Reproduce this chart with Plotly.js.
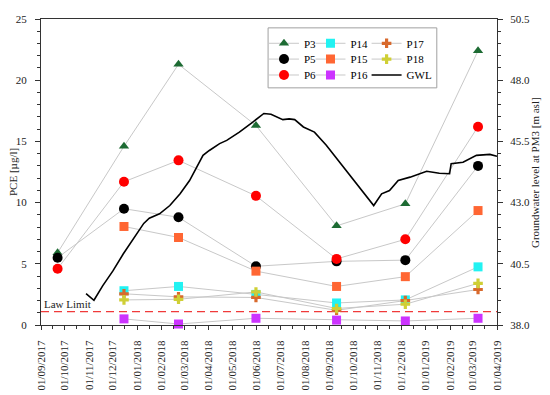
<!DOCTYPE html>
<html><head><meta charset="utf-8">
<script src="https://cdn.plot.ly/plotly-3.0.1.min.js"></script>
<style>html,body{margin:0;padding:0;background:#fff}#chart{width:550px;height:395px}</style>
</head><body><div id="chart"></div>
<script>
// ---- data ----
const sampleDates = ['2017-09-22','2017-12-15','2018-02-22','2018-05-31','2018-09-10','2018-12-06','2019-03-08'];
const P3  = [5.9, 14.6, 21.3, 16.3, 8.1, 9.9, 22.4];
const P5  = [5.5, 9.5, 8.8, 4.8, 5.2, 5.3, 13.0];
const P6  = [4.6, 11.7, 13.45, 10.55, 5.4, 7.0, 16.2];
const P14 = [null, 2.8, 3.15, 2.5, 1.8, 2.05, 4.75];
const P15 = [null, 8.05, 7.15, 4.4, 3.15, 3.95, 9.35];
const P16 = [null, 0.5, 0.08, 0.55, 0.4, 0.33, 0.55];
const P17 = [null, 2.55, 2.3, 2.25, 1.2, 2.0, 2.9];
const P18 = [null, 2.05, 2.1, 2.7, 1.35, 1.7, 3.4];

const gwlDates = ['2017-10-28','2017-11-07','2017-11-18','2017-12-01','2017-12-14','2017-12-22','2018-01-02','2018-01-09','2018-01-16','2018-01-29','2018-02-11','2018-02-24','2018-03-08','2018-03-14','2018-03-19','2018-03-25','2018-04-02','2018-04-15','2018-04-24','2018-05-10','2018-05-27','2018-06-10','2018-06-19','2018-07-04','2018-07-12','2018-07-19','2018-07-30','2018-08-13','2018-08-28','2018-09-14','2018-09-27','2018-10-09','2018-10-13','2018-10-27','2018-11-06','2018-11-16','2018-11-27','2018-12-12','2019-01-02','2019-01-18','2019-01-31','2019-02-02','2019-02-17','2019-03-06','2019-03-23','2019-04-01'];
const gwlLevel = [39.28,39.01,39.60,40.21,40.90,41.28,41.85,42.15,42.36,42.54,42.88,43.36,43.90,44.25,44.59,44.93,45.13,45.41,45.54,45.88,46.29,46.64,46.61,46.39,46.42,46.39,46.09,45.88,45.34,44.65,44.11,43.63,43.49,42.88,43.36,43.49,43.90,44.04,44.28,44.20,44.18,44.59,44.65,44.93,44.97,44.89];

const lawLimit = 1.1;
const lawLabel = 'Law Limit';
const leftTitle = 'PCE [µg/l]';
const rightTitle = 'Groundwater level at PM3 [m asl]';
const xTickFormat = '%d/%m/%Y';

// ---- styles ----
const FONT = 'Liberation Serif';
const series = [
  {name:'P3',  y:P3,  color:'#1d6b33', symbol:'triangle-up', size:9,  col:0, row:0},
  {name:'P5',  y:P5,  color:'#000000', symbol:'circle',      size:10, col:0, row:1},
  {name:'P6',  y:P6,  color:'#ff0000', symbol:'circle',      size:10, col:0, row:2},
  {name:'P14', y:P14, color:'#22f2f2', symbol:'square',      size:9,  col:1, row:0},
  {name:'P15', y:P15, color:'#ff6633', symbol:'square',      size:9,  col:1, row:1},
  {name:'P16', y:P16, color:'#cc33ff', symbol:'square',      size:9,  col:1, row:2},
  {name:'P17', y:P17, color:'#d8692c', symbol:'cross',       size:8,  col:2, row:0},
  {name:'P18', y:P18, color:'#cfcf35', symbol:'cross',       size:8,  col:2, row:1}
];
const legX = [0.489, 0.591, 0.714];
const legY = [0.9206, 0.869, 0.817];

const legFont = {family:FONT, size:11, color:'#000'};
const traces = [];
const layoutLegends = {};
series.forEach((s, i) => {
  const lg = i === 0 ? 'legend' : 'legend' + (i + 1);
  traces.push({
    type:'scatter', mode:'lines+markers', x:sampleDates, y:s.y, name:s.name,
    line:{color:'#c8c8c8', width:1},
    marker:{color:s.color, symbol:s.symbol, size:s.size, line:{width:0}},
    legend:lg, cliponaxis:false
  });
  layoutLegends[lg] = {x:legX[s.col], y:legY[s.row], xanchor:'left', yanchor:'middle',
    bgcolor:'rgba(0,0,0,0)', borderwidth:0, font:legFont};
});
traces.push({
  type:'scatter', mode:'lines', x:gwlDates, y:gwlLevel, name:'GWL', yaxis:'y2',
  line:{color:'#000', width:1.6}, legend:'legend9'
});
layoutLegends['legend9'] = {x:legX[2], y:legY[2], xanchor:'left', yanchor:'middle',
  bgcolor:'rgba(0,0,0,0)', borderwidth:0, font:legFont};

const tickFont = {family:FONT, size:11, color:'#222'};
const titleFont = {family:FONT, size:11, color:'#222'};
const layout = Object.assign({
  width:550, height:395,
  margin:{l:41, r:53, t:19, b:70},
  paper_bgcolor:'#fff', plot_bgcolor:'#fff',
  font:{family:FONT, size:11, color:'#222'},
  showlegend:true,
  xaxis:{
    type:'date', range:['2017-09-01','2019-04-01'],
    dtick:'M1', tick0:'2017-09-01', tickformat:xTickFormat, tickangle:-90,
    tickfont:tickFont, ticks:'outside', ticklen:4, tickcolor:'#333',
    ticklabelstandoff:6,
    minor:{dtick:'M1', tick0:'2017-09-16', ticks:'outside', ticklen:3, tickcolor:'#333'},
    showgrid:false, zeroline:false, showline:true, linecolor:'#333', linewidth:1, mirror:true
  },
  yaxis:{
    range:[0,25], dtick:5, tickfont:tickFont, ticks:'outside', ticklen:5, tickcolor:'#333',
    ticklabelstandoff:6,
    minor:{dtick:1, ticks:'outside', ticklen:3, tickcolor:'#333'},
    showgrid:false, zeroline:false, showline:true, linecolor:'#333', linewidth:1
  },
  yaxis2:{
    overlaying:'y', side:'right', range:[38,50.5], dtick:2.5, tick0:38, tickformat:'.1f',
    tickfont:tickFont, ticks:'outside', ticklen:5, tickcolor:'#333', ticklabelstandoff:5,
    minor:{dtick:0.5, ticks:'outside', ticklen:3, tickcolor:'#333'},
    showgrid:false, zeroline:false, showline:true, linecolor:'#333', linewidth:1
  },
  shapes:[
    {type:'line', xref:'paper', x0:0, x1:1, yref:'y', y0:lawLimit, y1:lawLimit,
     line:{color:'#f03a3a', width:1.2, dash:'8px,5px'}, layer:'below'},
    {type:'rect', xref:'paper', yref:'paper', x0:0.498, x1:0.868, y0:0.775, y1:0.971,
     line:{color:'#a0a0a0', width:1}, fillcolor:'rgba(255,255,255,1)', layer:'above'}
  ],
  annotations:[
    {xref:'paper', yref:'y', x:0.002, y:lawLimit, xanchor:'left', yanchor:'bottom',
     text:lawLabel, showarrow:false, font:{family:FONT, size:11, color:'#222'}},
    {xref:'paper', yref:'paper', x:-0.0614, y:0.5, xanchor:'center', yanchor:'middle',
     textangle:-90, text:leftTitle, showarrow:false, font:titleFont},
    {xref:'paper', yref:'paper', x:1.0833, y:0.5, xanchor:'center', yanchor:'middle',
     textangle:-90, text:rightTitle, showarrow:false, font:titleFont}
  ]
}, layoutLegends);

Plotly.newPlot('chart', traces, layout, {staticPlot:true, displayModeBar:false});
</script></body></html>
